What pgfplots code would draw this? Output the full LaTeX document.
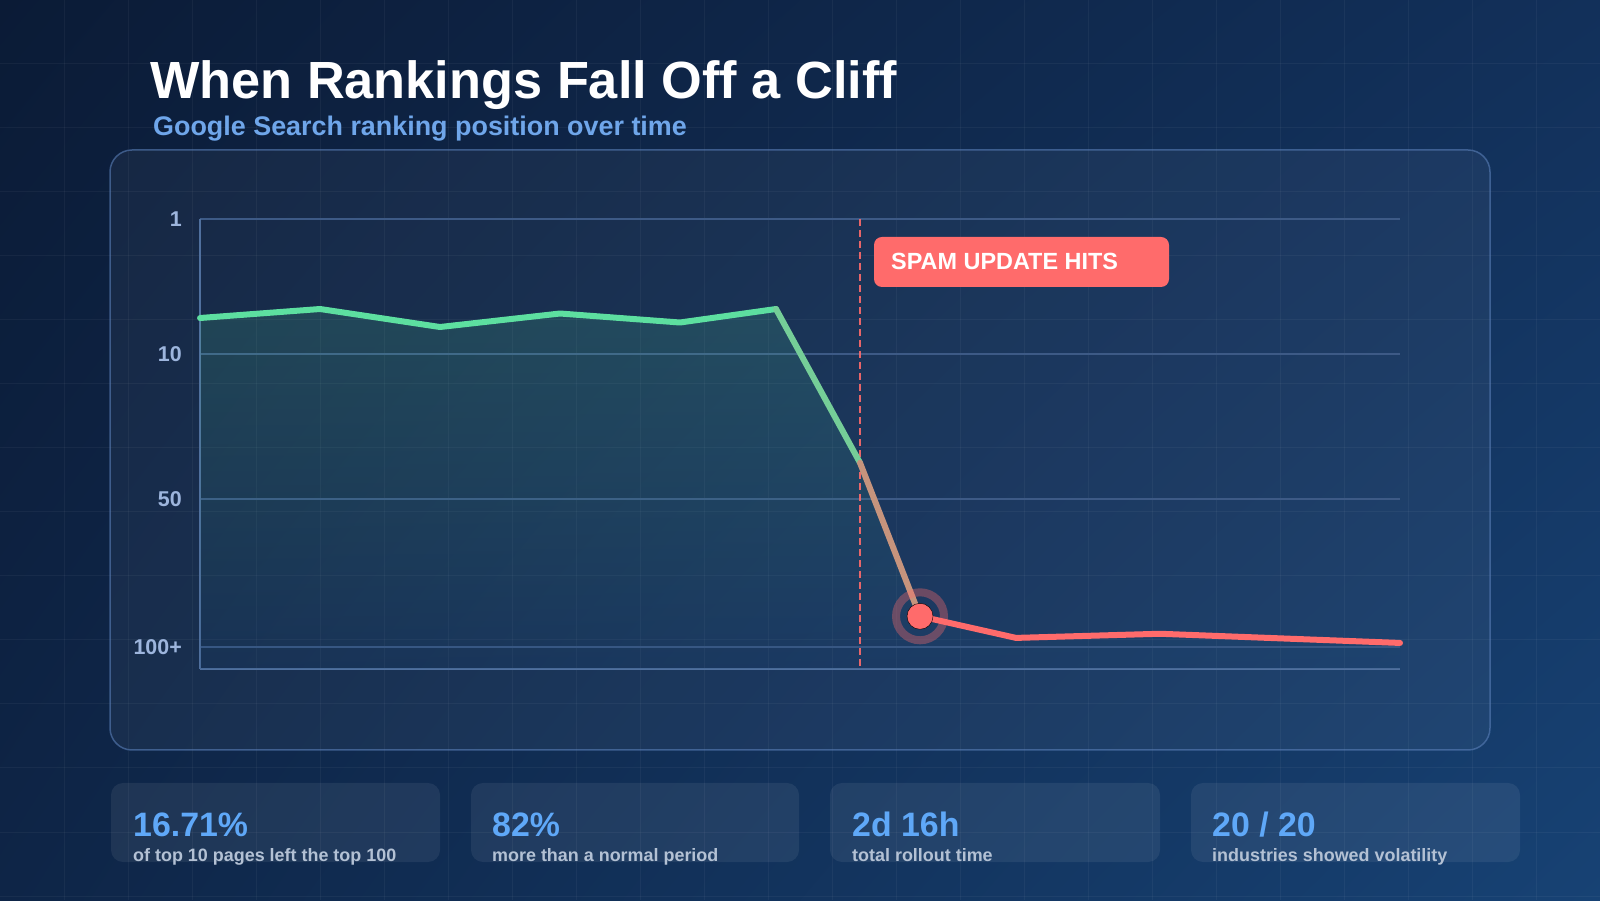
\documentclass[border=0pt]{standalone}
\usepackage{fontspec}
\setmainfont{Liberation Sans}
\usepackage{pgfplots}
\pgfplotsset{compat=1.18}
\usetikzlibrary{shadings}

\definecolor{bgUL}{HTML}{0B1B36}
\definecolor{bgUR}{HTML}{12305A}
\definecolor{bgLL}{HTML}{0E2547}
\definecolor{bgLR}{HTML}{174274}
\definecolor{mint}{HTML}{5DDFA0}
\definecolor{coral}{HTML}{FF6B6B}
\definecolor{tickblue}{HTML}{9DB5DD}
\definecolor{subblue}{HTML}{6FA6EA}
\definecolor{statblue}{HTML}{5FA8F8}
\definecolor{statgray}{HTML}{B3C1D4}
\definecolor{gridline}{HTML}{3D5A86}
\definecolor{axisline}{HTML}{50709E}
\definecolor{panelline}{HTML}{5A7FB8}

\newcommand{\fs}[1]{\fontsize{#1}{#1}\selectfont}

\begin{document}
\begin{tikzpicture}[x=1bp, y=1bp]
% page and background
\useasboundingbox (0,0) rectangle (1600,900);
\shade[upper left=bgUL, upper right=bgUR, lower left=bgLL, lower right=bgLR]
    (0,0) rectangle (1600,900);
\foreach \i in {64,128,...,1599} {
    \draw[white, opacity=0.045, line width=1bp] (\i,0) -- (\i,900);
}
\foreach \j in {4,68,...,899} {
    \draw[white, opacity=0.045, line width=1bp] (0,\j) -- (1600,\j);
}

% chart panel
\draw[rounded corners=22bp, fill=white, fill opacity=0.045,
      draw=panelline, draw opacity=0.6, line width=1.5bp]
    (110,150) rectangle (1490,750);

% stat cards
\foreach \a/\b in {111/440, 471/799, 830/1160, 1191/1520} {
    \fill[white, opacity=0.07, rounded corners=12bp] (\a,38) rectangle (\b,117);
}

% titles
\node[anchor=base west, inner sep=0pt, text=white]
    at (150,801) {\fs{52.5}\bfseries When Rankings Fall Off a Cliff};
\node[anchor=base west, inner sep=0pt, text=subblue]
    at (153,764) {\fs{27}\bfseries Google Search ranking position over time};

\begin{axis}[
    at={(200bp,231bp)}, anchor=south west,
    width=1200bp, height=450bp, scale only axis,
    xmin=0, xmax=10,
    ymin=107.4, ymax=1,
    % ranking positions on a piecewise scale: 1, 10, 50, 100 nearly evenly spread
    y coord trafo/.code={\begingroup\pgfkeys{/pgf/fpu=true}%
        \pgfmathparse{-((#1<10.001)*(#1-1)*15+(#1>10.001)*(#1<50.001)*(135+(#1-10)*3.625)+(#1>50.001)*(280+(#1-50)*2.96))}%
        \pgfmathfloattofixed{\pgfmathresult}%
        \xdef\rktmp{\pgfmathresult}\endgroup\let\pgfmathresult\rktmp},
    axis lines=left,
    axis line style={-, draw=axisline, line width=1.5bp},
    xtick=\empty,
    ytick={1,10,50,100},
    yticklabels={1,10,50,100+},
    major tick length=0pt,
    ymajorgrids,
    grid style={draw=gridline, line width=1.2bp},
    yticklabel style={anchor=east, inner sep=0pt, xshift=-18bp,
        font=\fs{21.5}\bfseries, text=tickblue},
    clip=false,
    enlargelimits=false,
]

% shaded area under the ranking line
\addplot[draw=none, top color=mint, bottom color=bgLR, fill opacity=0.15]
    coordinates {(0,107.4) (0,7.6) (1,7.0) (2,8.2) (3,7.3) (4,7.9) (4.8,7.0)
        (5.5,40) (6,89.6) (6.8,96.9) (8,95.5) (10,98.6) (10,107.4)};

% update marker
\addplot[coral, line width=2.5bp, dash pattern=on 7bp off 4bp, opacity=0.9]
    coordinates {(5.5,1) (5.5,107.4)};

% ranking before the update
\addplot[mint, line width=6bp, line join=round, line cap=round]
    coordinates {(0,7.6) (1,7.0) (2,8.2) (3,7.3) (4,7.9) (4.8,7.0)};
\addplot[mint!85!coral, line width=6bp, line cap=round]
    coordinates {(4.8,7.0) (5.5,40)};
\addplot[mint!35!coral, line width=6bp, line cap=round]
    coordinates {(5.5,40) (6,89.6)};
% ranking after the update
\addplot[coral, line width=6bp, line join=round, line cap=round]
    coordinates {(6,89.6) (6.8,96.9) (8,95.5) (10,98.6)};

% highlighted drop point
\addplot[only marks, mark=o, mark size=24bp,
    mark options={draw=coral, draw opacity=0.35, line width=8bp}]
    coordinates {(6,89.6)};
\addplot[only marks, mark=*, mark size=13bp, mark options={fill=coral, draw=none}]
    coordinates {(6,89.6)};
\end{axis}

% annotation label
\fill[coral, rounded corners=8bp] (874,613) rectangle (1169,663);
\node[anchor=west, inner sep=0pt, text=white] at (891,639)
    {\fs{23.5}\bfseries SPAM UPDATE HITS};

% stats
\foreach \x/\big/\small in {133/{16.71\%}/{of top 10 pages left the top 100},
        492/{82\%}/{more than a normal period},
        852/{2d 16h}/{total rollout time},
        1212/{20 / 20}/{industries showed volatility}} {
    \node[anchor=base west, inner sep=0pt, text=statblue] at (\x,64)
        {\fs{34}\bfseries \big};
    \node[anchor=base west, inner sep=0pt, text=statgray] at (\x,39)
        {\fs{18}\bfseries \small};
}
\end{tikzpicture}
\end{document}
